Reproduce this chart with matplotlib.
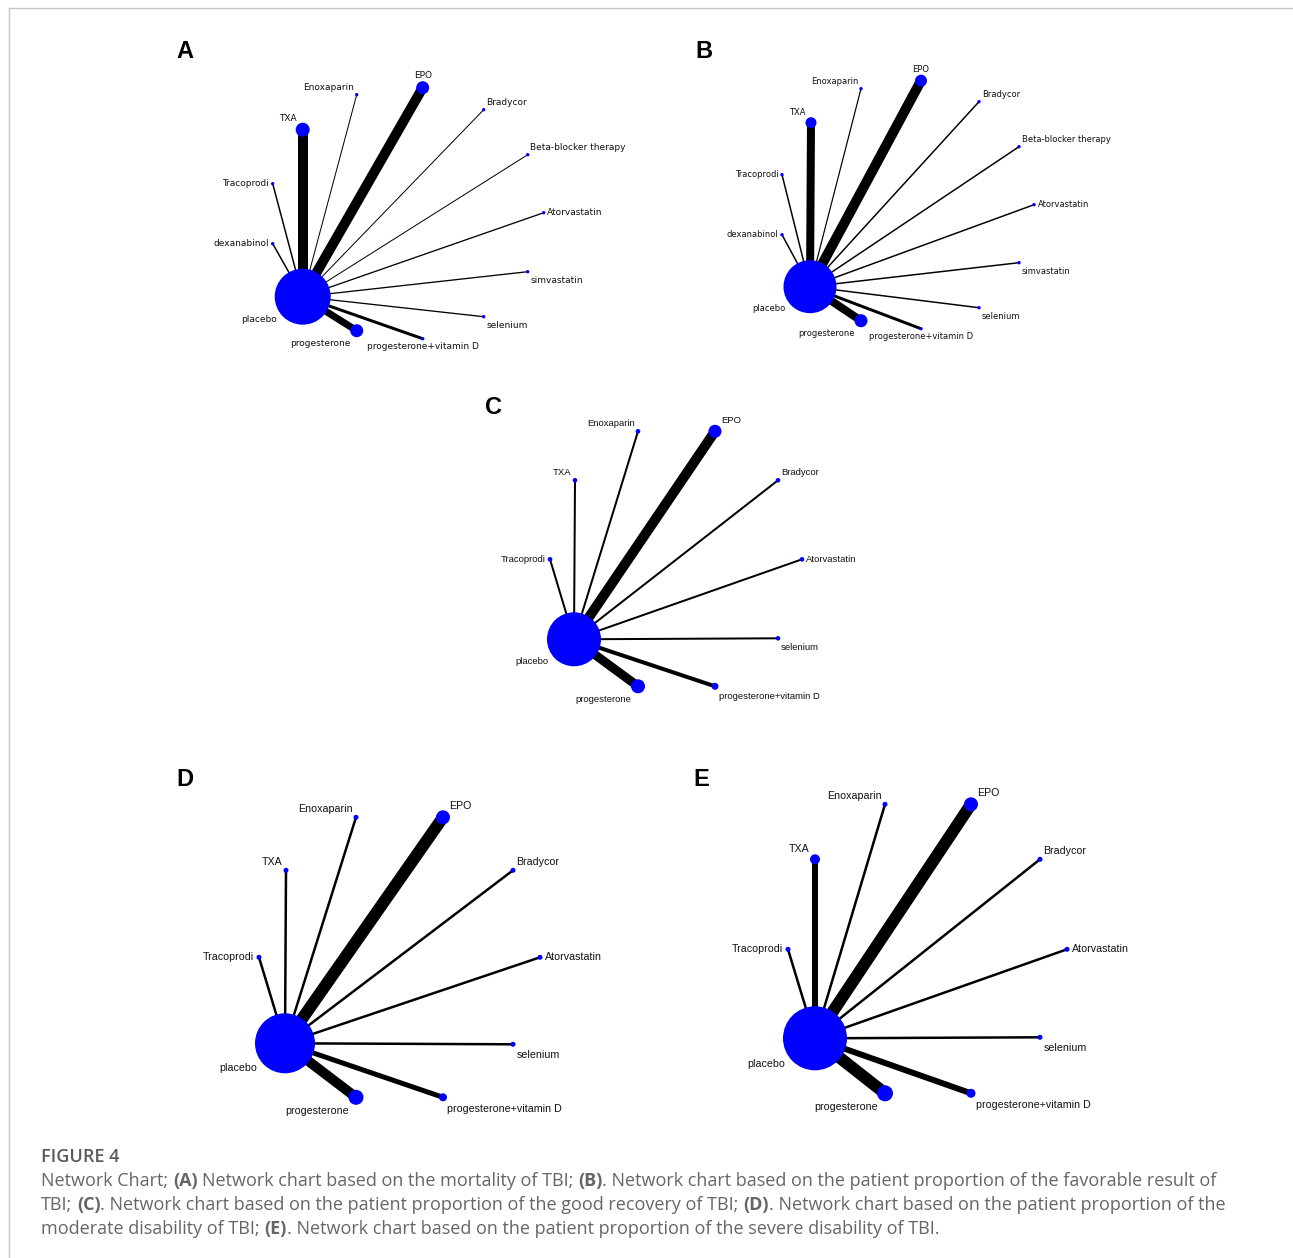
import matplotlib
matplotlib.use("Agg")
import matplotlib.pyplot as plt
from matplotlib.patches import Circle

W, H = 1293, 1258
BLUE = "#0000ff"

# ---- panel A: mortality ----
A_names = ["TXA", "EPO", "Enoxaparin", "Bradycor", "Beta-blocker therapy", "Atorvastatin",
           "simvastatin", "selenium", "progesterone+vitamin D", "progesterone", "dexanabinol", "Tracoprodi"]
A_dx = [0, 120, 54, 181, 225, 241, 225, 181, 120, 54, -30, -30]
A_dy = [167, 209, 202, 187, 142, 84, 25, -20, -42, -34, 53, 113]
A_r = [7, 6.5, 1.7, 1.7, 1.7, 1.7, 1.7, 1.7, 1.7, 6.5, 1.7, 1.7]
A_w = [10, 10, 1, 1, 1, 1.3, 1.3, 1.3, 3, 7, 1.5, 1.5]
A_pos = ["tl", "t", "tl", "tr", "tr", "r", "br", "br", "b", "bl", "l", "l"]

# ---- panel B: favorable result ----
B_names = A_names
B_dx = [1, 111, 51, 169, 209, 224, 209, 169, 111, 51, -28, -28]
B_dy = [164, 206, 198, 185, 140, 82, 24, -21, -42, -34, 52, 112]
B_r = [5.5, 6, 1.7, 1.7, 1.7, 1.7, 1.7, 1.7, 1.7, 6.5, 1.7, 1.7]
B_w = [8, 10, 1.2, 1.5, 1.5, 1.5, 1.5, 1.5, 3, 8, 1.5, 1.5]
B_pos = A_pos

# ---- panels C, D, E share the same nodes ----
CDE_names = ["EPO", "Enoxaparin", "TXA", "Bradycor", "Atorvastatin", "selenium",
             "progesterone+vitamin D", "progesterone", "Tracoprodi"]
CDE_pos = ["tr", "tl", "tl", "tr", "r", "br", "br", "bl", "l"]

C_dx = [141, 64, 1, 204, 228, 204, 141, 64, -24]
C_dy = [208, 208, 159, 159, 80, 1, -47, -47, 80]
C_r = [6.5, 2.3, 2.3, 2.3, 2.3, 2.3, 3.5, 7, 2.3]
C_w = [10, 2, 2, 2, 2, 2, 4, 9, 2]

D_dx = [158, 71, 1, 228, 255, 228, 158, 71, -26]
D_dy = [226, 226, 173, 173, 86, -1, -54, -54, 86]
D_r = [7, 2.5, 2.5, 2.5, 2.5, 2.5, 4, 7.5, 2.5]
D_w = [12, 2.5, 2.5, 2.5, 2.5, 2.5, 5, 10, 2.5]

E_dx = [156, 70, 0, 225, 252, 225, 156, 70, -27]
E_dy = [234, 234, 179, 179, 89, 1, -55, -55, 89]
E_r = [7, 2.5, 5, 2.5, 2.5, 2.5, 4.5, 8, 2.5]
E_w = [12, 2.5, 6, 2.5, 2.5, 2.5, 6, 12, 2.5]

hub_name = "placebo"

fig = plt.figure(figsize=(W / 100, H / 100), dpi=100)
ax = fig.add_axes([0, 0, 1, 1])
ax.set_xlim(0, W)
ax.set_ylim(H, 0)
ax.axis("off")

# thin frame (top and left only)
ax.plot([9, 9, W], [H, 7.5, 7.5], color="#c4c4c4", lw=1.0)

PX = 0.72  # pixels -> points


def label_spot(x, y, r, code):
    k = r * 0.71 + 1.5
    if code == "l":
        return x - r - 2, y, "right", "center"
    if code == "r":
        return x + r + 2, y, "left", "center"
    if code == "t":
        return x, y - r - 1, "center", "bottom"
    if code == "b":
        return x, y + r + 2, "center", "top"
    if code == "tl":
        return x - k, y - k, "right", "bottom"
    if code == "tr":
        return x + k, y - k, "left", "bottom"
    if code == "bl":
        return x - k, y + k + 2, "right", "top"
    return x + k, y + k + 2, "left", "top"


def draw_panel(letter, letter_xy, hub, hub_r, names, dx, dy, radii, widths, pos, fs, fam):
    hx, hy = hub
    ax.text(letter_xy[0], letter_xy[1], letter, fontsize=17, fontweight="bold",
            family="Liberation Sans", ha="center", va="center")
    for n, ddx, ddy, r, w, p in zip(names, dx, dy, radii, widths, pos):
        x, y = hx + ddx, hy - ddy
        ax.plot([hx, x], [hy, y], color="black", lw=w * PX, solid_capstyle="butt", zorder=1)
        ax.add_patch(Circle((x, y), r, color=BLUE, lw=0, zorder=3))
        tx, ty, ha, va = label_spot(x, y, r, p)
        ax.text(tx, ty, n, fontsize=fs, family=fam, ha=ha, va=va, color="#111111")
    ax.add_patch(Circle((hx, hy), hub_r, color=BLUE, lw=0, zorder=2))
    ax.text(hx - 0.93 * hub_r, hy + 0.65 * hub_r, hub_name, fontsize=fs, family=fam,
            ha="right", va="top", color="#111111")


draw_panel("A", (185, 51), (302.7, 296.7), 28, A_names, A_dx, A_dy, A_r, A_w, A_pos, 6.5, "DejaVu Sans")
draw_panel("B", (703.5, 51), (810, 286.7), 26.5, B_names, B_dx, B_dy, B_r, B_w, B_pos, 6.0, "DejaVu Sans")
draw_panel("C", (494, 408), (574, 639.3), 27, CDE_names, C_dx, C_dy, C_r, C_w, CDE_pos, 6.8, "Liberation Sans")
draw_panel("D", (185, 779), (285, 1043.3), 30, CDE_names, D_dx, D_dy, D_r, D_w, CDE_pos, 7.7, "Liberation Sans")
draw_panel("E", (701, 779), (815, 1038.3), 32, CDE_names, E_dx, E_dy, E_r, E_w, CDE_pos, 7.7, "Liberation Sans")

# ---- caption ----
cap_title = "FIGURE 4"
cap_lines = [
    [("Network Chart;", False), ("(A)", True), ("Network chart based on the mortality of TBI;", False),
     ("(B)", True), (". Network chart based on the patient proportion of the favorable result of", False)],
    [("TBI;", False), ("(C)", True), (". Network chart based on the patient proportion of the good recovery of TBI;", False),
     ("(D)", True), (". Network chart based on the patient proportion of the", False)],
    [("moderate disability of TBI;", False), ("(E)", True),
     (". Network chart based on the patient proportion of the severe disability of TBI.", False)],
]
CAP_FS = 13
CAP_COLOR = "#666666"

ax.text(41, 1157, cap_title, fontsize=CAP_FS, family="Open Sans", fontweight="semibold",
        color="#5a5a5a", ha="left", va="center")

renderer = fig.canvas.get_renderer()


def width_of(s, bold):
    t = ax.text(0, 0, s, fontsize=CAP_FS, family="Open Sans",
                fontweight="bold" if bold else "normal")
    w = t.get_window_extent(renderer).width
    t.remove()
    return w


space_w = width_of("n n", False) - width_of("nn", False)

for i, segs in enumerate(cap_lines):
    x = 41
    y = 1181 + 24 * i
    prev = None
    for s, bold in segs:
        if prev is not None and not s.startswith("."):
            x += space_w
        t = ax.text(x, y, s, fontsize=CAP_FS, family="Open Sans",
                    fontweight="bold" if bold else "normal", color=CAP_COLOR, ha="left", va="center")
        x += t.get_window_extent(renderer).width
        prev = s

fig.savefig("out.png", dpi=100)
